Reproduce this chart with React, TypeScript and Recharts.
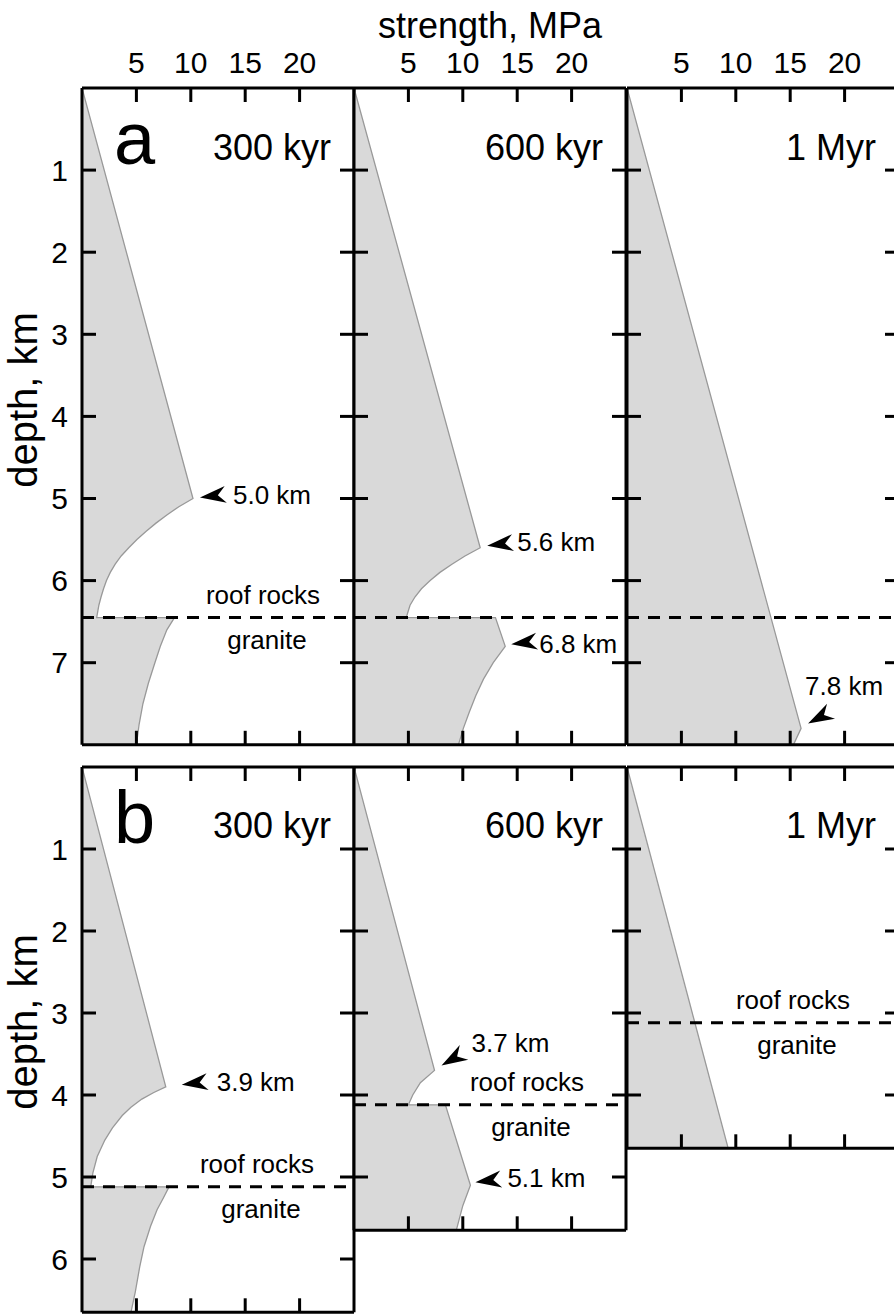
import React from 'react';
import { ComposedChart, Area, XAxis, YAxis, ReferenceLine, ReferenceDot } from 'recharts';

const FONT = '"Liberation Sans", Arial, Helvetica, sans-serif';

// axis ticks
const strengthTicks = [5, 10, 15, 20];
const depthTicks = [1, 2, 3, 4, 5, 6, 7];
const ages = ['300 kyr', '600 kyr', '1 Myr'];

// row a: roof/granite contact and profile bottom (km)
const contactA = 6.45;
const maxDepthA = 8;

// a, 300 kyr
const depthA300 = [0, 5.0, 5.1, 5.2, 5.3, 5.4, 5.5, 5.6, 5.7, 5.8, 5.9, 6.0, 6.1, 6.2, 6.3, 6.45, 6.45, 6.6, 6.8, 7.0, 7.25, 7.5, 7.75, 8.0];
const strengthA300 = [0, 10.2, 8.9, 7.8, 6.8, 5.9, 5.05, 4.3, 3.6, 3.05, 2.6, 2.25, 1.98, 1.75, 1.55, 1.35, 8.5, 7.8, 7.2, 6.7, 6.1, 5.6, 5.25, 5.0];
const peaksA300 = [5.0];

// a, 600 kyr
const depthA600 = [0, 5.6, 5.7, 5.8, 5.9, 6.0, 6.1, 6.2, 6.3, 6.45, 6.45, 6.8, 7.0, 7.2, 7.4, 7.6, 7.8, 8.0];
const strengthA600 = [0, 11.6, 10.2, 9.0, 7.9, 7.0, 6.2, 5.6, 5.15, 4.8, 13.0, 13.9, 12.8, 11.9, 11.2, 10.6, 10.05, 9.6];
const peaksA600 = [5.6, 6.8];

// a, 1 Myr
const depthA1M = [0, 7.8, 8.0];
const strengthA1M = [0, 16.0, 15.3];
const peaksA1M = [7.8];

// row b: contacts and profile bottoms (km) for 300 kyr, 600 kyr, 1 Myr
const contactB = [5.12, 4.12, 3.12];
const maxDepthB = [6.65, 5.65, 4.65];

// b, 300 kyr
const depthB300 = [0, 3.9, 3.97, 4.05, 4.15, 4.25, 4.4, 4.55, 4.75, 4.95, 5.12, 5.12, 5.25, 5.4, 5.6, 5.85, 6.1, 6.4, 6.65];
const strengthB300 = [0, 7.7, 6.6, 5.5, 4.5, 3.7, 2.8, 2.1, 1.4, 1.0, 0.8, 8.0, 7.5, 6.9, 6.3, 5.7, 5.3, 4.9, 4.5];
const peaksB300 = [3.9];

// b, 600 kyr
const depthB600 = [0, 3.7, 3.85, 4.0, 4.12, 4.12, 5.1, 5.35, 5.65];
const strengthB600 = [0, 7.4, 6.1, 5.4, 5.0, 8.4, 10.7, 10.0, 9.4];
const peaksB600 = [3.7, 5.1];

// b, 1 Myr
const depthB1M = [0, 4.65];
const strengthB1M = [0, 9.3];
const peaksB1M: number[] = [];

type MarkStyle = { tipDx: number; tipDy: number; tilt: number; textDx: number; textDy: number };

type PanelProps = {
  left: number;
  top: number;
  width: number;
  kmPx: number;
  maxDepth: number;
  depth: number[];
  strength: number[];
  contact: number;
  peaks: number[];
  marks: MarkStyle[];
  regionX?: number;
  xLabels?: boolean;
  yLabels?: boolean;
};

const frame = { stroke: '#000', strokeWidth: 3 };
const labelTick = { fontSize: 30, fill: '#000', fontFamily: FONT };
// tick marks only, no text
const noText = () => <g />;

// arrowhead pointing at a strength peak, with its depth written next to it
function arrowShape(style: MarkStyle, text: string) {
  return (p: any) => {
    const tx = p.cx + style.tipDx;
    const ty = p.cy + style.tipDy;
    return (
      <g>
        <polygon
          points="0,0 26,-8.5 18,0 26,8.5"
          transform={`translate(${tx},${ty}) rotate(${-style.tilt})`}
          fill="#000"
        />
        <text x={p.cx + style.textDx} y={p.cy + style.textDy} fontSize={26} fill="#000" fontFamily={FONT}>
          {text}
        </text>
      </g>
    );
  };
}

function regionShape(dx: number) {
  return (p: any) => (
    <g fontFamily={FONT} fontSize={26} fill="#000" textAnchor="middle">
      <text x={p.cx + dx} y={p.cy - 14}>roof rocks</text>
      <text x={p.cx + dx + 4} y={p.cy + 31}>granite</text>
    </g>
  );
}

function Panel(props: PanelProps) {
  const { left, top, width, kmPx, maxDepth, depth, strength, contact, peaks, marks, regionX, xLabels, yLabels } = props;
  const height = maxDepth * kmPx;
  const padL = yLabels ? left : 3;
  const padT = xLabels ? top : 3;
  const rows = depth.map((d, i) => ({ depth: d, strength: strength[i] }));
  const yTicks = depthTicks.filter((t) => t < maxDepth);
  const xDomain: [number, number] = [0, 25];
  const yDomain: [number, number] = [0, maxDepth];

  const xCommon = {
    type: 'number' as const,
    dataKey: 'strength',
    domain: xDomain,
    allowDataOverflow: true,
    ticks: strengthTicks,
    interval: 0 as const,
  };
  const yCommon = {
    type: 'number' as const,
    dataKey: 'depth',
    domain: yDomain,
    allowDataOverflow: true,
    ticks: yTicks,
    interval: 0 as const,
  };

  return (
    <div style={{ position: 'absolute', left: left - padL, top: top - padT }}>
      <ComposedChart
        layout="vertical"
        width={padL + width + 3}
        height={padT + height + 3}
        data={rows}
        margin={{ top: xLabels ? 0 : 3, left: yLabels ? 0 : 3, right: 3, bottom: 3 }}
      >
        {xLabels && (
          <XAxis
            xAxisId="lbl"
            orientation="top"
            {...xCommon}
            height={top}
            axisLine={false}
            tickLine={false}
            tickSize={0}
            tickMargin={15}
            tick={labelTick}
          />
        )}
        <XAxis
          xAxisId="top"
          orientation="top"
          mirror
          {...xCommon}
          tick={noText}
          tickSize={14}
          axisLine={frame}
          tickLine={frame}
        />
        <XAxis
          xAxisId="bottom"
          orientation="bottom"
          mirror
          {...xCommon}
          tick={noText}
          tickSize={14}
          axisLine={frame}
          tickLine={frame}
        />
        {yLabels && (
          <YAxis
            yAxisId="lbl"
            orientation="left"
            {...yCommon}
            width={left}
            axisLine={false}
            tickLine={false}
            tickSize={0}
            tickMargin={14}
            tick={labelTick}
          />
        )}
        <YAxis
          yAxisId="left"
          orientation="left"
          mirror
          {...yCommon}
          tick={noText}
          tickSize={14}
          axisLine={frame}
          tickLine={frame}
        />
        <YAxis
          yAxisId="right"
          orientation="right"
          mirror
          {...yCommon}
          tick={noText}
          tickSize={14}
          axisLine={frame}
          tickLine={frame}
        />
        <Area
          xAxisId="top"
          yAxisId="left"
          type="linear"
          dataKey="strength"
          fill="#d9d9d9"
          fillOpacity={1}
          stroke="#999"
          strokeWidth={1.3}
          dot={false}
          activeDot={false}
          isAnimationActive={false}
        />
        <ReferenceLine
          xAxisId="top"
          yAxisId="left"
          y={contact}
          stroke="#000"
          strokeWidth={3}
          strokeDasharray="12 9"
        />
        {regionX !== undefined && (
          <ReferenceDot xAxisId="top" yAxisId="left" x={0} y={contact} shape={regionShape(regionX)} />
        )}
        {peaks.map((p, k) => {
          let best = -1;
          depth.forEach((d, i) => {
            if (d === p && (best < 0 || strength[i] > strength[best])) best = i;
          });
          return (
            <ReferenceDot
              key={p}
              xAxisId="top"
              yAxisId="left"
              x={strength[best]}
              y={p}
              shape={arrowShape(marks[k], `${p.toFixed(1)} km`)}
            />
          );
        })}
      </ComposedChart>
    </div>
  );
}

const COLS = [82, 354, 627];
const W = 272;

export default function App() {
  return (
    <div
      style={{
        position: 'absolute',
        left: 0,
        top: 0,
        width: 894,
        height: 1315,
        overflow: 'hidden',
        background: '#fff',
        fontFamily: FONT,
      }}
    >
      {/* row a */}
      <Panel
        left={COLS[0]} top={88} width={W} kmPx={82.1} maxDepth={maxDepthA}
        depth={depthA300} strength={strengthA300} contact={contactA}
        peaks={peaksA300}
        marks={[{ tipDx: 7, tipDy: -1, tilt: 7, textDx: 40, textDy: 6 }]}
        regionX={181} xLabels yLabels
      />
      <Panel
        left={COLS[1]} top={88} width={W} kmPx={82.1} maxDepth={maxDepthA}
        depth={depthA600} strength={strengthA600} contact={contactA}
        peaks={peaksA600}
        marks={[
          { tipDx: 7, tipDy: -2, tilt: 7, textDx: 37, textDy: 3 },
          { tipDx: 6, tipDy: -2, tilt: 7, textDx: 34, textDy: 7 },
        ]}
        xLabels
      />
      <Panel
        left={COLS[2]} top={88} width={W} kmPx={82.1} maxDepth={maxDepthA}
        depth={depthA1M} strength={strengthA1M} contact={contactA}
        peaks={peaksA1M}
        marks={[{ tipDx: 7, tipDy: -5, tilt: 28, textDx: 4, textDy: -33 }]}
        xLabels
      />

      {/* row b */}
      <Panel
        left={COLS[0]} top={767} width={W} kmPx={82} maxDepth={maxDepthB[0]}
        depth={depthB300} strength={strengthB300} contact={contactB[0]}
        peaks={peaksB300}
        marks={[{ tipDx: 16, tipDy: -2, tilt: 7, textDx: 51, textDy: 4 }]}
        regionX={175} yLabels
      />
      <Panel
        left={COLS[1]} top={767} width={W} kmPx={82} maxDepth={maxDepthB[1]}
        depth={depthB600} strength={strengthB600} contact={contactB[1]}
        peaks={peaksB600}
        marks={[
          { tipDx: 7, tipDy: -5, tilt: 30, textDx: 37, textDy: -18 },
          { tipDx: 5, tipDy: -3, tilt: 7, textDx: 37, textDy: 2 },
        ]}
        regionX={173}
      />
      <Panel
        left={COLS[2]} top={767} width={W} kmPx={82} maxDepth={maxDepthB[2]}
        depth={depthB1M} strength={strengthB1M} contact={contactB[2]}
        peaks={peaksB1M} marks={[]}
        regionX={166}
      />

      <svg
        width={894}
        height={1315}
        style={{ position: 'absolute', left: 0, top: 0, pointerEvents: 'none' }}
        fontFamily={FONT}
        fill="#000"
      >
        <text x={490} y={38} fontSize={36} textAnchor="middle">strength, MPa</text>
        <text transform="translate(37,400) rotate(-90)" fontSize={40} textAnchor="middle">depth, km</text>
        <text transform="translate(37,1022) rotate(-90)" fontSize={40} textAnchor="middle">depth, km</text>
        <text x={114} y={164} fontSize={74}>a</text>
        <text x={114} y={843} fontSize={74}>b</text>
        {ages.map((a, i) => (
          <text key={`a${a}`} x={COLS[i] + W - 23} y={160} fontSize={36} textAnchor="end">{a}</text>
        ))}
        {ages.map((a, i) => (
          <text key={`b${a}`} x={COLS[i] + W - 23} y={838} fontSize={36} textAnchor="end">{a}</text>
        ))}
      </svg>
    </div>
  );
}
